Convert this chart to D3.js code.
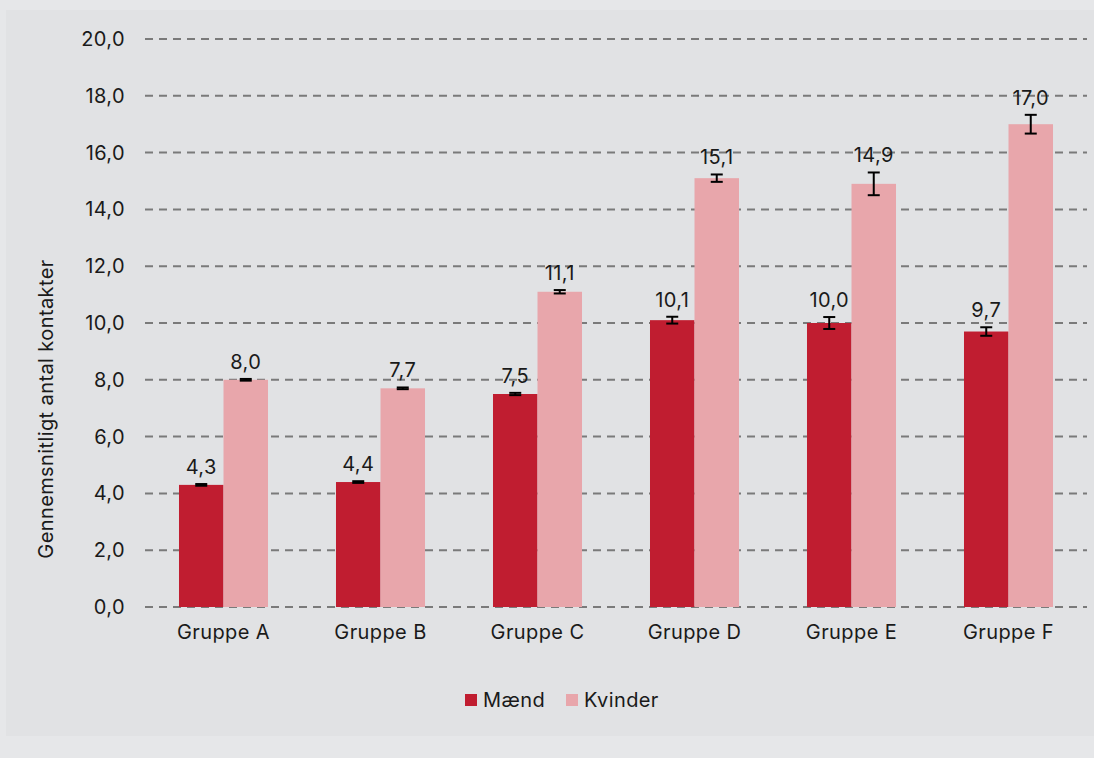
<!DOCTYPE html>
<html>
<head>
<meta charset="utf-8">
<script src="https://cdn.jsdelivr.net/npm/d3@7"></script>
<style>
  html, body { margin: 0; padding: 0; background: #e6e7e9; }
  svg { display: block; }
  text { font-family: Inter, "Noto Sans", sans-serif; fill: #1a1a1a; letter-spacing: 0.4px; }
</style>
</head>
<body>
<div id="chart"></div>
<script>
const groups = ["Gruppe A", "Gruppe B", "Gruppe C", "Gruppe D", "Gruppe E", "Gruppe F"];
const series = ["Mænd", "Kvinder"];
const maend = [4.3, 4.4, 7.5, 10.1, 10.0, 9.7];
const kvinder = [8.0, 7.7, 11.1, 15.1, 14.9, 17.0];
const maendErr = [0.03, 0.03, 0.04, 0.12, 0.21, 0.15];
const kvinderErr = [0.03, 0.03, 0.06, 0.13, 0.4, 0.33];
const yTicks = [0, 2, 4, 6, 8, 10, 12, 14, 16, 18, 20];
const colors = ["#c01d30", "#e8a6ab"];

const W = 1094, H = 758;
const margin = {top: 39, right: 7, bottom: 151, left: 145};
const width = W - margin.left - margin.right;
const height = H - margin.top - margin.bottom;
const fs = 20;

const fmt = v => v.toFixed(1).replace(".", ",");

const svg = d3.select("#chart").append("svg")
    .attr("width", W).attr("height", H);

// grey panel
svg.append("rect")
    .attr("x", 6).attr("y", 10).attr("width", W - 6).attr("height", 726)
    .attr("fill", "#e1e2e4");

const g = svg.append("g")
    .attr("transform", `translate(${margin.left},${margin.top})`);

const y = d3.scaleLinear().domain([0, 20]).range([height, 0]);
const x = d3.scaleBand().domain(groups).range([0, width])
    .paddingInner(0.433).paddingOuter(0.2165);
const xs = d3.scaleBand().domain(series).range([0, x.bandwidth()]);

// gridlines
g.append("g").selectAll("line")
    .data(yTicks)
    .join("line")
    .attr("x1", 0).attr("x2", width)
    .attr("y1", d => y(d)).attr("y2", d => y(d))
    .attr("stroke", "#7a7a7a")
    .attr("stroke-width", 2)
    .attr("stroke-dasharray", "8,6");

// y axis labels
const yAxis = g.append("g")
    .call(d3.axisLeft(y).tickValues(yTicks).tickFormat(fmt).tickSize(0).tickPadding(20));
yAxis.select(".domain").remove();
yAxis.selectAll("text").attr("font-size", fs).attr("fill", "#1a1a1a")
    .style("font-family", "Inter, sans-serif");

// x axis labels
const xAxis = g.append("g")
    .attr("transform", `translate(0,${height})`)
    .call(d3.axisBottom(x).tickSize(0).tickPadding(18));
xAxis.select(".domain").remove();
xAxis.selectAll("text").attr("font-size", fs).attr("fill", "#1a1a1a")
    .style("font-family", "Inter, sans-serif");

// y axis title
svg.append("text")
    .attr("transform", "translate(53,409) rotate(-90)")
    .attr("text-anchor", "middle")
    .attr("font-size", fs)
    .text("Gennemsnitligt antal kontakter");

const rows = [];
groups.forEach((grp, i) => {
    rows.push({grp, s: series[0], v: maend[i], e: maendErr[i]});
    rows.push({grp, s: series[1], v: kvinder[i], e: kvinderErr[i]});
});

// bars
g.append("g").selectAll("rect")
    .data(rows)
    .join("rect")
    .attr("x", d => x(d.grp) + xs(d.s))
    .attr("y", d => y(d.v))
    .attr("width", xs.bandwidth())
    .attr("height", d => y(0) - y(d.v))
    .attr("fill", d => colors[series.indexOf(d.s)]);

// error bars
const eb = g.append("g").attr("stroke", "#000").attr("stroke-width", 2);
rows.forEach(d => {
    const cx = x(d.grp) + xs(d.s) + xs.bandwidth() / 2;
    eb.append("line").attr("x1", cx).attr("x2", cx)
        .attr("y1", y(d.v + d.e)).attr("y2", y(d.v - d.e));
    [d.v + d.e, d.v - d.e].forEach(v => {
        eb.append("line").attr("x1", cx - 6).attr("x2", cx + 6)
            .attr("y1", y(v)).attr("y2", y(v));
    });
});

// value labels
g.append("g").selectAll("text")
    .data(rows)
    .join("text")
    .attr("x", d => x(d.grp) + xs(d.s) + xs.bandwidth() / 2)
    .attr("y", d => y(d.v + d.e) - 10)
    .attr("text-anchor", "middle")
    .attr("font-size", fs)
    .text(d => fmt(d.v));

// legend
const leg = svg.append("g").attr("transform", "translate(465,700)");
const legX = [0, 101];
series.forEach((s, i) => {
    const it = leg.append("g").attr("transform", `translate(${legX[i]},0)`);
    it.append("rect").attr("x", 0).attr("y", -6).attr("width", 12).attr("height", 12)
        .attr("fill", colors[i]);
    it.append("text").attr("x", 18).attr("y", 0).attr("dy", "0.35em")
        .attr("font-size", fs).text(s);
});
</script>
</body>
</html>
